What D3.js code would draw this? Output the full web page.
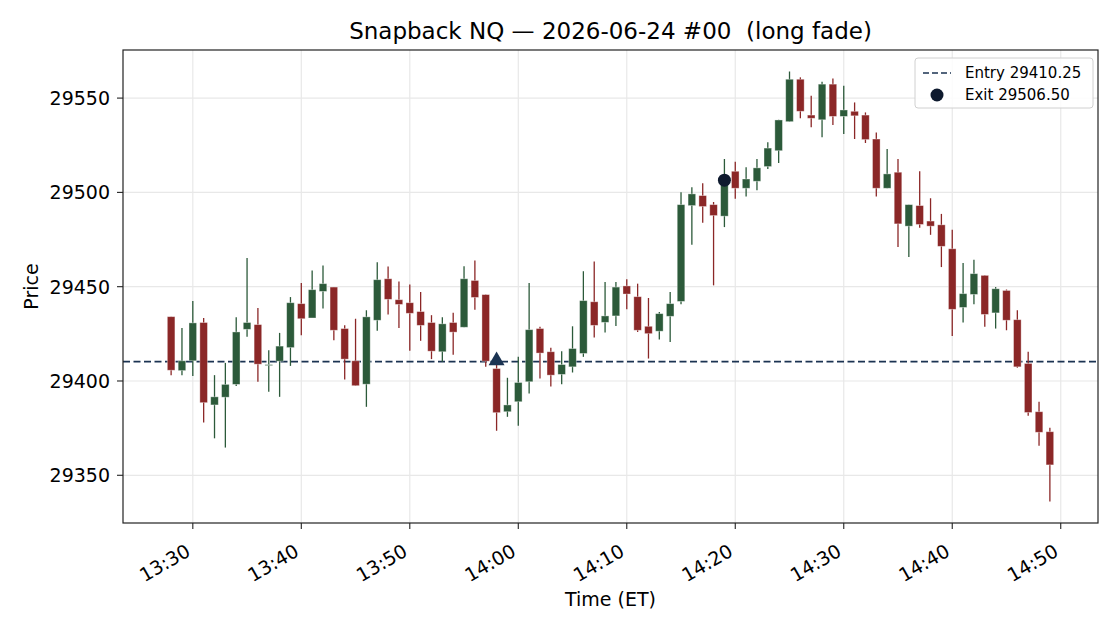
<!DOCTYPE html>
<html>
<head>
<meta charset="utf-8">
<script src="https://cdn.jsdelivr.net/npm/d3@7"></script>
<style>
  body { margin: 0; background: #fff; }
  svg { font-family: "DejaVu Sans", sans-serif; }
</style>
</head>
<body>
<script>
// minute bars, 13:28 .. 14:49 ET
const times = [
  "13:28","13:29","13:30","13:31","13:32","13:33","13:34","13:35","13:36","13:37",
  "13:38","13:39","13:40","13:41","13:42","13:43","13:44","13:45","13:46","13:47",
  "13:48","13:49","13:50","13:51","13:52","13:53","13:54","13:55","13:56","13:57",
  "13:58","13:59","14:00","14:01","14:02","14:03","14:04","14:05","14:06","14:07",
  "14:08","14:09","14:10","14:11","14:12","14:13","14:14","14:15","14:16","14:17",
  "14:18","14:19","14:20","14:21","14:22","14:23","14:24","14:25","14:26","14:27",
  "14:28","14:29","14:30","14:31","14:32","14:33","14:34","14:35","14:36","14:37",
  "14:38","14:39","14:40","14:41","14:42","14:43","14:44","14:45","14:46","14:47",
  "14:48","14:49"
];
const opens = [
  29434.1,29405.5,29410.7,29431.0,29387.3,29391.4,29398.2,29427.4,29429.9,29408.4,
  29410.5,29417.7,29441.0,29433.4,29447.5,29449.8,29427.8,29410.7,29398.3,29432.2,
  29454.2,29443.1,29441.5,29436.8,29431.0,29415.5,29431.0,29428.5,29453.3,29445.8,
  29406.6,29383.7,29389.0,29399.6,29427.8,29415.5,29403.5,29407.5,29414.6,29442.0,
  29431.1,29434.5,29450.4,29444.7,29429.0,29426.4,29434.3,29442.2,29493.0,29498.3,
  29493.5,29487.4,29511.2,29502.2,29505.9,29513.7,29522.1,29537.5,29560.0,29541.0,
  29538.5,29557.4,29540.3,29543.0,29541.0,29528.3,29502.2,29510.7,29482.1,29493.0,
  29484.8,29482.8,29470.1,29439.0,29445.9,29456.0,29436.1,29448.0,29432.5,29409.3,
  29383.7,29373.1
];
const highs = [
  29434.1,29428.1,29442.4,29433.4,29403.1,29409.6,29433.8,29465.2,29438.7,29416.3,
  29425.5,29444.5,29452.0,29458.6,29461.3,29449.8,29429.5,29433.0,29437.5,29463.0,
  29460.7,29452.8,29451.2,29447.2,29434.9,29433.8,29436.2,29460.9,29463.9,29445.8,
  29410.0,29401.7,29412.8,29452.0,29428.7,29417.6,29415.8,29429.0,29458.2,29463.4,
  29452.5,29452.5,29453.9,29451.6,29444.0,29436.6,29447.2,29500.1,29502.7,29504.9,
  29494.9,29517.7,29516.3,29513.3,29517.7,29526.6,29538.5,29564.1,29561.0,29551.2,
  29558.6,29560.4,29556.5,29547.7,29542.4,29531.8,29523.0,29517.7,29493.5,29511.2,
  29496.9,29488.6,29480.2,29462.5,29464.3,29456.0,29449.8,29448.5,29437.5,29415.5,
  29389.0,29375.2
];
const lows = [
  29403.1,29403.1,29402.6,29378.0,29369.6,29364.7,29397.3,29423.4,29399.6,29394.3,
  29391.6,29408.0,29424.3,29433.4,29438.4,29421.6,29400.8,29397.5,29386.3,29426.6,
  29435.2,29428.1,29416.0,29421.3,29411.6,29410.2,29413.9,29428.5,29437.8,29407.5,
  29373.6,29381.0,29376.3,29393.4,29401.3,29397.1,29398.3,29404.5,29412.8,29423.0,
  29425.7,29429.2,29438.0,29426.0,29411.9,29422.0,29420.7,29440.7,29472.2,29483.9,
  29450.7,29481.6,29496.6,29497.8,29501.2,29512.4,29515.6,29537.5,29539.3,29534.5,
  29529.2,29535.7,29531.0,29528.3,29526.2,29497.8,29502.2,29471.0,29465.7,29481.2,
  29477.5,29460.4,29423.9,29431.0,29440.7,29428.7,29427.8,29426.9,29407.0,29381.6,
  29365.7,29336.1
];
const closes = [
  29405.7,29410.7,29430.8,29388.5,29391.6,29398.2,29426.0,29431.0,29408.9,29408.7,
  29418.5,29441.5,29433.0,29448.4,29451.6,29426.9,29411.6,29397.5,29434.0,29453.7,
  29443.3,29440.6,29435.9,29429.5,29415.8,29430.3,29425.9,29454.2,29444.3,29410.5,
  29383.2,29387.3,29399.2,29427.2,29414.8,29403.1,29408.7,29417.2,29442.6,29429.5,
  29434.5,29449.8,29446.1,29426.9,29425.1,29435.7,29441.0,29493.5,29499.2,29492.5,
  29487.7,29505.0,29502.2,29507.1,29513.0,29523.5,29538.4,29560.0,29543.0,29539.3,
  29557.4,29540.3,29543.7,29540.6,29528.0,29502.2,29509.8,29483.3,29493.5,29483.0,
  29482.1,29471.4,29438.0,29446.3,29456.9,29435.3,29448.9,29432.2,29407.5,29383.3,
  29372.8,29355.5
];

const entryTime = "13:58";
const entryPrice = 29410.25;
const exitTime = "14:19";
const exitPrice = 29506.50;

const W = 1120, H = 630;
const margin = { top: 50, right: 22, bottom: 107, left: 123 };
const innerW = W - margin.left - margin.right;
const innerH = H - margin.top - margin.bottom;

const upColor = "#2c5a3a";
const downColor = "#8b2727";
const markColor = "#1b3352";

const parseT = t => {
    const [h, m] = t.split(":").map(Number);
    return new Date(Date.UTC(2026, 5, 24, h, m));
};

const bars = times.map((t, i) => ({
    t: parseT(t), o: opens[i], h: highs[i], l: lows[i], c: closes[i]
}));

const minute = 60000;
const halfW = 0.35 * minute;
const t0 = +bars[0].t - halfW, t1 = +bars[bars.length - 1].t + halfW;
const padX = (t1 - t0) * 0.05;
const x = d3.scaleUtc()
    .domain([new Date(t0 - padX), new Date(t1 + padX)])
    .range([0, innerW]);

const lo = d3.min(lows), hi = d3.max(highs);
const padY = (hi - lo) * 0.05;
const y = d3.scaleLinear()
    .domain([lo - padY, hi + padY])
    .range([innerH, 0]);

const svg = d3.select("body").append("svg")
    .attr("width", W)
    .attr("height", H);

const g = svg.append("g")
    .attr("transform", `translate(${margin.left},${margin.top})`);

const xTicks = x.ticks(d3.utcMinute.every(10));
const yTicks = [29350, 29400, 29450, 29500, 29550];

// grid
g.append("g").selectAll("line.gx")
    .data(xTicks).enter().append("line")
    .attr("x1", d => x(d)).attr("x2", d => x(d))
    .attr("y1", 0).attr("y2", innerH)
    .attr("stroke", "#e8e8e8").attr("stroke-width", 1.2);
g.append("g").selectAll("line.gy")
    .data(yTicks).enter().append("line")
    .attr("x1", 0).attr("x2", innerW)
    .attr("y1", d => y(d)).attr("y2", d => y(d))
    .attr("stroke", "#e8e8e8").attr("stroke-width", 1.2);

// entry line
g.append("line")
    .attr("x1", 0).attr("x2", innerW)
    .attr("y1", y(entryPrice)).attr("y2", y(entryPrice))
    .attr("stroke", markColor)
    .attr("stroke-width", 1.6)
    .attr("stroke-dasharray", "7,3.5");

// candles
const bw = x(new Date(+bars[0].t + halfW)) - x(new Date(+bars[0].t - halfW));
const candle = g.append("g").selectAll("g")
    .data(bars).enter().append("g");

candle.append("line")
    .attr("x1", d => x(d.t)).attr("x2", d => x(d.t))
    .attr("y1", d => y(d.h)).attr("y2", d => y(d.l))
    .attr("stroke", d => d.c >= d.o ? upColor : downColor)
    .attr("stroke-width", 1.3);

candle.append("rect")
    .attr("x", d => x(d.t) - bw / 2)
    .attr("y", d => y(Math.max(d.o, d.c)))
    .attr("width", bw)
    .attr("height", d => Math.max(1, Math.abs(y(d.o) - y(d.c))))
    .attr("fill", d => d.c >= d.o ? upColor : downColor)
    .attr("stroke", "rgba(255,255,255,0.45)")
    .attr("stroke-width", 0.8);

// entry / exit markers
const tri = d3.symbol().type(d3.symbolTriangle).size(110);
g.append("path")
    .attr("d", tri())
    .attr("transform", `translate(${x(parseT(entryTime))},${y(entryPrice) - 1})`)
    .attr("fill", markColor);

g.append("circle")
    .attr("cx", x(parseT(exitTime)))
    .attr("cy", y(exitPrice))
    .attr("r", 6.5)
    .attr("fill", "#0e1a2e");

// frame
g.append("rect")
    .attr("width", innerW).attr("height", innerH)
    .attr("fill", "none")
    .attr("stroke", "#222").attr("stroke-width", 1.2);

// y axis
const yAxis = g.append("g");
yAxis.selectAll("line").data(yTicks).enter().append("line")
    .attr("x1", -6).attr("x2", 0)
    .attr("y1", d => y(d)).attr("y2", d => y(d))
    .attr("stroke", "#222").attr("stroke-width", 1.1);
yAxis.selectAll("text").data(yTicks).enter().append("text")
    .attr("x", -13).attr("y", d => y(d))
    .attr("dy", "0.36em")
    .attr("text-anchor", "end")
    .attr("font-size", 19)
    .text(d => d);

// x axis
const fmt = d3.utcFormat("%H:%M");
const xAxis = g.append("g").attr("transform", `translate(0,${innerH})`);
xAxis.selectAll("line").data(xTicks).enter().append("line")
    .attr("x1", d => x(d)).attr("x2", d => x(d))
    .attr("y1", 0).attr("y2", 6)
    .attr("stroke", "#222").attr("stroke-width", 1.1);
xAxis.selectAll("text").data(xTicks).enter().append("text")
    .attr("text-anchor", "end")
    .attr("font-size", 19)
    .attr("transform", d => `translate(${x(d) - 1},32) rotate(-30)`)
    .text(d => fmt(d));

// labels
svg.append("text")
    .attr("x", margin.left + innerW / 2).attr("y", 39)
    .attr("text-anchor", "middle")
    .attr("font-size", 23)
    .style("white-space", "pre")
    .text("Snapback NQ \u2014 2026-06-24 #00  (long fade)");

svg.append("text")
    .attr("x", margin.left + innerW / 2).attr("y", 606)
    .attr("text-anchor", "middle")
    .attr("font-size", 19)
    .text("Time (ET)");

svg.append("text")
    .attr("transform", `translate(38,${margin.top + innerH / 2}) rotate(-90)`)
    .attr("text-anchor", "middle")
    .attr("font-size", 19)
    .text("Price");

// legend
const lg = svg.append("g").attr("transform", "translate(915,58)");
lg.append("rect")
    .attr("width", 178).attr("height", 50)
    .attr("rx", 3)
    .attr("fill", "rgba(255,255,255,0.85)")
    .attr("stroke", "#d0d0d0");
lg.append("line")
    .attr("x1", 8).attr("x2", 36).attr("y1", 15).attr("y2", 15)
    .attr("stroke", markColor).attr("stroke-width", 1.6)
    .attr("stroke-dasharray", "6,3");
lg.append("text")
    .attr("x", 50).attr("y", 20)
    .attr("font-size", 15)
    .text("Entry " + entryPrice.toFixed(2));
lg.append("circle")
    .attr("cx", 22).attr("cy", 37).attr("r", 6.5)
    .attr("fill", "#0e1a2e");
lg.append("text")
    .attr("x", 50).attr("y", 42)
    .attr("font-size", 15)
    .text("Exit " + exitPrice.toFixed(2));
</script>
</body>
</html>
